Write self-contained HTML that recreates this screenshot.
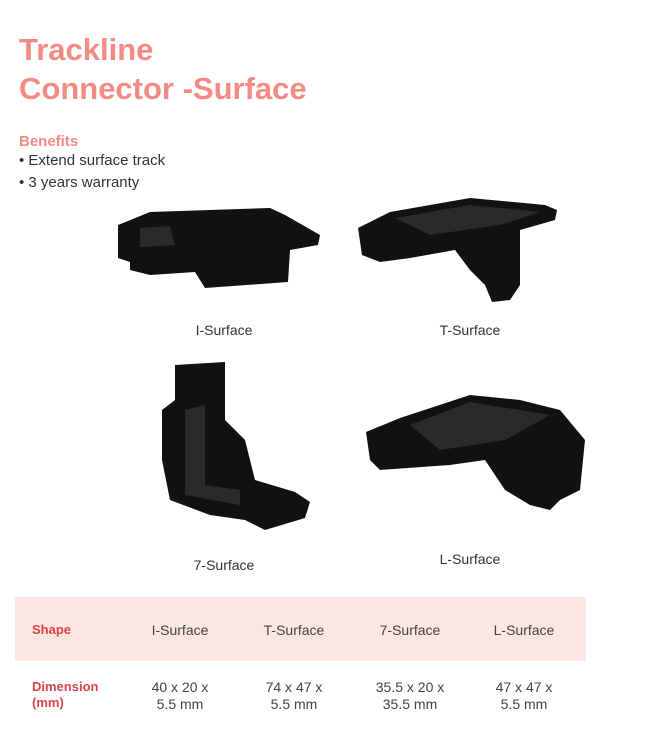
<!DOCTYPE html>
<html><head><meta charset="utf-8"><style>
body{margin:0;width:655px;height:742px;background:#fff;position:relative;font-family:"Liberation Sans",sans-serif;overflow:hidden}
.t{position:absolute;left:19px;color:#f38a84;font-weight:bold;font-size:31px;line-height:40px}
.ab{position:absolute;white-space:nowrap}
.cap{position:absolute;font-size:14px;color:#333;transform:translateX(-50%)}
.tc{position:absolute;font-size:14px;color:#444;text-align:center;transform:translateX(-50%);line-height:17px;white-space:nowrap}
.lab{position:absolute;left:32px;font-size:13px;color:#d8454a;font-weight:bold;line-height:16px}
</style></head><body>
<div class="t" style="top:30px">Trackline</div>
<div class="t" style="top:69px">Connector -Surface</div>
<div class="ab" style="left:19px;top:133px;font-size:15px;font-weight:bold;color:#f38a84">Benefits</div>
<div class="ab" style="left:19px;top:152px;font-size:15px;color:#333">• Extend surface track</div>
<div class="ab" style="left:19px;top:174px;font-size:15px;color:#333">• 3 years warranty</div>

<svg width="655" height="742" style="position:absolute;left:0;top:0">
<g fill="#111">
<polygon points="150,212 270,208 285,215 320,235 318,245 290,250 288,282 205,288 195,272 150,275 130,270 130,262 118,258 118,225"/>
<polygon points="140,228 170,226 175,245 140,247" fill="#2a2a2a"/>
<polygon points="358,228 390,212 470,198 545,205 557,210 555,220 520,230 520,285 510,300 492,302 485,285 470,270 455,250 410,258 380,262 362,255"/>
<polygon points="395,218 470,205 540,212 500,225 430,235" fill="#2a2a2a"/>
<polygon points="175,365 225,362 225,420 245,440 255,480 295,492 310,502 305,518 265,530 245,520 210,515 170,500 162,460 162,410 175,400"/>
<polygon points="185,410 205,405 205,485 240,490 240,505 185,495" fill="#2a2a2a"/>
<polygon points="366,432 400,418 470,395 520,400 560,410 585,440 580,490 560,500 550,510 530,505 505,490 485,460 450,465 380,470 370,460"/>
<polygon points="410,425 470,402 550,415 505,440 440,450" fill="#2a2a2a"/>
</g>
</svg>

<div class="cap" style="left:224px;top:322px">I-Surface</div>
<div class="cap" style="left:470px;top:322px">T-Surface</div>
<div class="cap" style="left:224px;top:557px">7-Surface</div>
<div class="cap" style="left:470px;top:551px">L-Surface</div>

<div style="position:absolute;left:15px;top:597px;width:571px;height:64px;background:#fce6e2"></div>
<div class="lab" style="top:622px">Shape</div>
<div class="tc" style="left:180px;top:622px">I-Surface</div>
<div class="tc" style="left:294px;top:622px">T-Surface</div>
<div class="tc" style="left:410px;top:622px">7-Surface</div>
<div class="tc" style="left:524px;top:622px">L-Surface</div>
<div class="lab" style="top:679px">Dimension<br>(mm)</div>
<div class="tc" style="left:180px;top:679px">40 x 20 x<br>5.5 mm</div>
<div class="tc" style="left:294px;top:679px">74 x 47 x<br>5.5 mm</div>
<div class="tc" style="left:410px;top:679px">35.5 x 20 x<br>35.5 mm</div>
<div class="tc" style="left:524px;top:679px">47 x 47 x<br>5.5 mm</div>
</body></html>
